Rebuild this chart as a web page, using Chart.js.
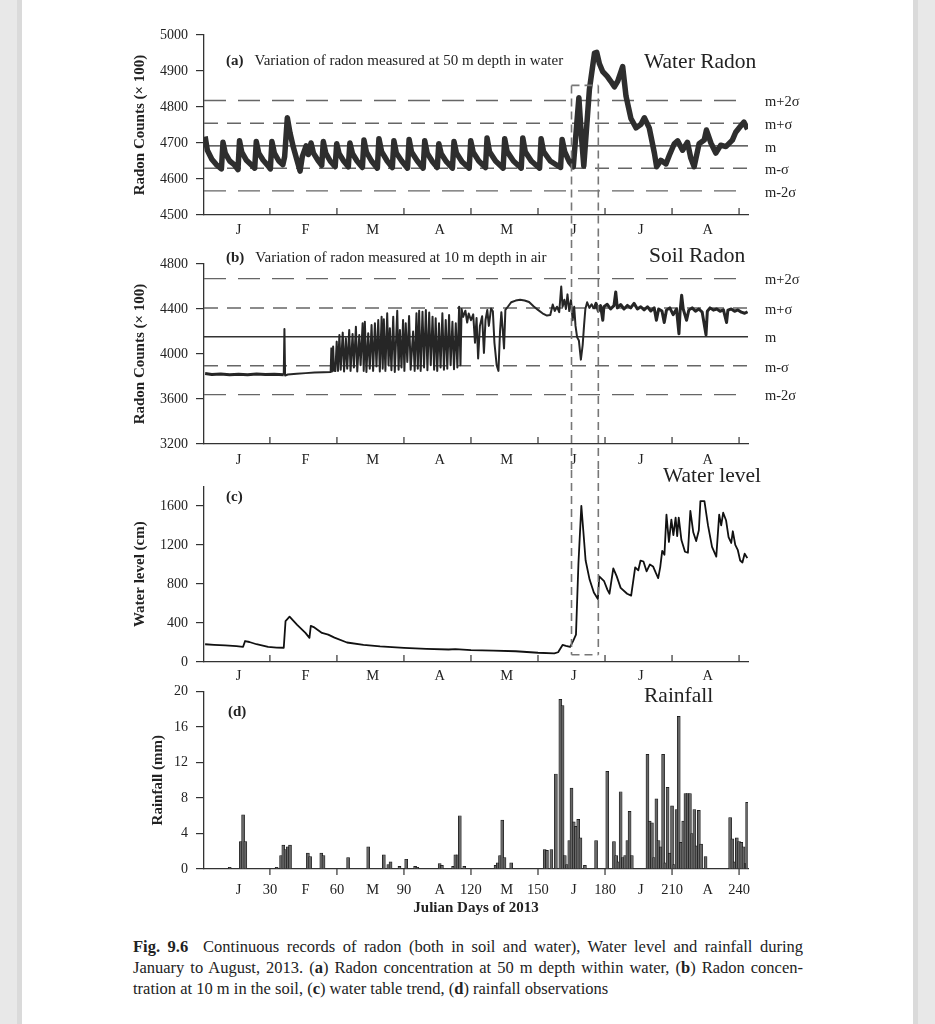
<!DOCTYPE html>
<html lang="en">
<head>
<meta charset="UTF-8">
<title>Fig. 9.6 Radon, water level and rainfall, 2013</title>
<script src="https://cdn.jsdelivr.net/npm/chart.js"></script>
<style>
    html, body {
        margin: 0;
        padding: 0;
    }
    body {
        width: 935px;
        height: 1024px;
        position: relative;
        overflow: hidden;
        background: #e8e8e8;
        font-family: "Liberation Serif", "Times New Roman", serif;
        color: #222;
    }
    #page {
        position: absolute;
        left: 22px;
        top: 0;
        width: 891px;
        height: 1024px;
        background: #fff;
        box-shadow: -5px 0 0 #dadada, 5px 0 0 #dadada;
    }
    canvas {
        position: absolute;
        left: 0;
    }
    .note {
        position: absolute;
        white-space: nowrap;
        line-height: 1;
        z-index: 2;
    }
    .small { font-size: 15px; }
    .big { font-size: 21.5px; }
    #caption {
        position: absolute;
        left: 133px;
        top: 936px;
        width: 670px;
        font-size: 16.5px;
        line-height: 21px;
    }
    #caption .j {
        text-align: justify;
        text-align-last: justify;
    }
</style>
</head>
<body>
<div id="page"></div>

<canvas id="waterChart" width="935" height="240" style="top:0px"></canvas>
<canvas id="soilChart" width="935" height="230" style="top:240px"></canvas>
<canvas id="levelChart" width="935" height="213" style="top:470px"></canvas>
<canvas id="rainChart" width="935" height="255" style="top:675px"></canvas>

<div class="note small" style="left:226px; top:53px"><b>(a)</b>&nbsp;&nbsp; Variation of radon measured at 50 m depth in water</div>
<div class="note big" style="left:644px; top:51px">Water Radon</div>
<div class="note small" style="left:226px; top:250px"><b>(b)</b>&nbsp;&nbsp; Variation of radon measured at 10 m depth in air</div>
<div class="note big" style="left:649px; top:245px">Soil Radon</div>
<div class="note small" style="left:226px; top:489px"><b>(c)</b></div>
<div class="note big" style="left:663px; top:465px">Water level</div>
<div class="note small" style="left:228px; top:704px"><b>(d)</b></div>
<div class="note big" style="left:644px; top:685px">Rainfall</div>

<div id="caption">
    <div class="j"><b>Fig. 9.6</b>&nbsp; Continuous records of radon (both in soil and water), Water level and rainfall during</div>
    <div class="j">January to August, 2013. (<b>a</b>) Radon concentration at 50 m depth within water, (<b>b</b>) Radon concen-</div>
    <div>tration at 10 m in the soil, (<b>c</b>) water table trend, (<b>d</b>) rainfall observations</div>
</div>

<script>
    // axis labels
    const monthLetters = ['J', 'F', 'M', 'A', 'M', 'J', 'J', 'A'];
    const monthMid = [16, 46, 76, 106, 136, 166, 196, 226];
    const julianTicks = [30, 60, 90, 120, 150, 180, 210, 240];
    const sigmaLabels = ['m+2\u03c3', 'm+\u03c3', 'm', 'm-\u03c3', 'm-2\u03c3'];

    // mean and sigma levels
    const waterLevels = [4818, 4755, 4692, 4630, 4567];
    const soilLevels = [4670, 4409, 4154, 3896, 3639];

    // dashed window (Julian days) and its top / bottom values
    const boxDays = [165, 177];
    const boxTop = 4860;
    const boxBottom = 75;

    // (a) water radon, counts x 100
    const waterDays = [1, 2, 4, 6, 8.3, 9, 10, 12, 14, 15.7, 16.4, 17.4, 19.5, 21.5, 23.2, 23.9, 25, 27, 29, 30.2,
        30.9, 32, 34, 35.8, 36.6, 37.8, 39, 40.5, 42, 43.5, 44.5, 46.2, 47.2, 48.4, 49.5, 51.5, 53.2, 53.9, 55, 57,
        59.2, 59.9, 61, 63, 65.1, 65.8, 67, 69, 71.4, 72.1, 73.2, 75.5, 78.1, 78.8, 80, 82.5, 84.8, 85.5, 86.6, 89,
        91.6, 92.3, 93.4, 96, 98.6, 99.3, 100.4, 102.8, 104.9, 105.6, 106.7, 109, 111.7, 112.4, 113.5, 116, 119.2, 119.9, 121, 123.5,
        126.5, 127.2, 128.3, 131, 134.4, 135.1, 136.2, 139, 142.5, 143.2, 144.3, 147, 150.7, 151.4, 152.5, 155.5, 160.1, 160.8, 162, 164,
        165.8, 168.3, 169.3, 170.5, 173, 175.3, 176.3, 177.5, 179, 181, 182.5, 184.2, 185.7, 187.9, 189.4, 191.6, 193.9, 196.1, 197.6, 199.8,
        202.1, 203.1, 205, 207.3, 208.8, 211, 212.5, 214.7, 216.9, 218.4, 219.9, 222.1, 224.4, 225.4, 227.4, 229.6, 231.8, 234.1, 237, 238.5,
        240.8, 242.2, 243.8];
    const waterCounts = [4718, 4680, 4655, 4640, 4628, 4702, 4672, 4650, 4640, 4626, 4706, 4675, 4652, 4640, 4630, 4704, 4672, 4652, 4638, 4628,
        4704, 4672, 4650, 4640, 4662, 4770, 4728, 4688, 4655, 4622, 4662, 4692, 4668, 4700, 4672, 4652, 4638, 4704, 4672, 4650,
        4634, 4698, 4670, 4650, 4634, 4700, 4670, 4650, 4632, 4708, 4675, 4650, 4630, 4712, 4676, 4650, 4632, 4706, 4672, 4650,
        4630, 4710, 4675, 4650, 4630, 4706, 4672, 4648, 4632, 4698, 4670, 4648, 4630, 4704, 4672, 4648, 4630, 4706, 4674, 4650,
        4632, 4714, 4676, 4650, 4630, 4712, 4676, 4650, 4630, 4714, 4676, 4650, 4630, 4712, 4676, 4650, 4632, 4710, 4675, 4648,
        4634, 4826, 4730, 4636, 4848, 4950, 4952, 4920, 4898, 4885, 4872, 4856, 4872, 4912, 4830, 4768, 4742, 4752, 4770, 4742,
        4672, 4634, 4652, 4642, 4666, 4698, 4706, 4680, 4702, 4658, 4634, 4698, 4708, 4736, 4700, 4672, 4694, 4690, 4708, 4730,
        4748, 4758, 4738];

    // (b) soil radon, counts x 100
    const soilDays = [1, 4, 8, 12, 16, 20, 24, 28, 32, 36.2, 36.5, 36.8, 38, 42, 46, 50, 54, 57.2, 57.5, 57.8,
        58.3, 58.7, 59.3, 59.9, 60.5, 61.1, 61.7, 62.6, 63.2, 64, 64.6, 65.5, 66.1, 67, 67.6, 68.5, 69.1, 70, 70.6, 71.5,
        72, 72.5, 73.2, 74, 74.7, 75.5, 76.2, 77, 77.7, 78.5, 79.2, 80, 80.5, 81, 81.7, 82.5, 83.1, 83.7, 84.4, 85.2,
        85.9, 87, 87.6, 88.2, 88.9, 89.6, 90.2, 90.8, 91.5, 92.3, 93, 94.1, 94.8, 95.6, 96.2, 96.8, 97.5, 98.3, 99, 99.8,
        100.5, 101.3, 102, 102.8, 103.5, 104.2, 104.9, 105.7, 106.4, 107.2, 107.9, 108.7, 109.4, 110.2, 110.9, 111.7, 112.4, 113.2, 113.9, 114.7,
        115.3, 115.8, 116.5, 117.5, 118.3, 119, 120, 121, 121.8, 122.5, 123.2, 124, 125, 125.8, 126.5, 127.3, 128, 129, 129.8, 130.5,
        131.5, 132.3, 133, 133.6, 134.2, 134.8, 135.4, 136.5, 138, 140, 142, 144, 146, 148, 150, 152, 154, 155.5, 156.6, 157.5,
        158.5, 159.5, 160.4, 161, 161.8, 162.5, 163.2, 164, 164.8, 165.5, 166.2, 166.8, 167.5, 168.3, 169.2, 170, 170.6, 171.2, 172, 173,
        174, 175, 176, 177, 178, 179, 179.5, 181, 182.5, 184, 184.8, 185.5, 187, 188.5, 190, 191.5, 193, 194.5, 196, 197.5,
        199, 200.5, 202, 203, 204, 205.5, 206.5, 207.5, 209, 210.5, 212, 213.1, 213.6, 214.3, 215, 216.5, 217.5, 219, 220.5, 222,
        223.5, 225.2, 225.8, 227, 228.5, 230, 231.5, 233, 234.4, 235, 236.5, 238, 239.5, 241, 242.5, 243.8];
    const soilCounts = [3826, 3818, 3823, 3815, 3821, 3816, 3822, 3817, 3820, 3816, 4222, 3808, 3818, 3824, 3830, 3835, 3837, 3840, 4050, 3845,
        4066, 3850, 3848, 4110, 3850, 4169, 3860, 4190, 3845, 4139, 3870, 4213, 3850, 4178, 3880, 4243, 3845, 4169, 3900, 4273,
        3850, 4287, 3840, 4184, 3870, 4258, 3850, 4273, 3890, 4302, 3845, 4332, 3870, 4308, 3850, 4362, 3900, 4228, 3855, 4332,
        3840, 4385, 3860, 4213, 3880, 4302, 3850, 4273, 3930, 4338, 3860, 4199, 3850, 4362, 3870, 4385, 3850, 4376, 3880, 4391,
        3855, 4368, 3900, 4332, 3860, 4317, 3850, 4273, 3880, 4362, 3860, 4302, 3870, 4347, 3900, 4287, 3865, 4273, 3880, 4421,
        3900, 4400, 4330, 4385, 4280, 4360, 4300, 4352, 4100, 4320, 3960, 4250, 4335, 4010, 4300, 4392, 4250, 4405, 4380, 4100,
        3900, 3850, 4200, 4372, 4220, 4050, 4392, 4420, 4460, 4475, 4482, 4476, 4462, 4425, 4392, 4362, 4342, 4346, 4440, 4382,
        4420, 4372, 4600, 4420, 4482, 4400, 4530, 4382, 4480, 4300, 4420, 4250, 4150, 4120, 3950, 4080, 4250, 4400, 4460, 4410,
        4442, 4400, 4450, 4382, 4430, 4300, 4420, 4442, 4400, 4430, 4552, 4410, 4440, 4400, 4432, 4410, 4450, 4400, 4420, 4392,
        4420, 4382, 4410, 4300, 4400, 4382, 4280, 4390, 4410, 4350, 4400, 4180, 4380, 4522, 4400, 4300, 4390, 4410, 4380, 4400,
        4372, 4170, 4380, 4410, 4390, 4400, 4380, 4392, 4280, 4390, 4400, 4380, 4392, 4372, 4362, 4376];

    // (c) water level, cm
    const levelDays = [1, 5, 10, 15, 18, 18.9, 20.8, 24, 29.2, 33, 36.2, 37, 38.8, 42.2, 45.9, 47.7, 48.3, 49.6, 53.3, 56.1,
        58.9, 64.5, 71.9, 79.3, 90, 100, 110, 113, 120, 130, 140, 150, 157.3, 159, 161, 162.5, 164.4, 165.7, 167, 168.1,
        169.4, 170.3, 171.3, 173.1, 175, 176.8, 177.4, 179.6, 181.1, 182, 183.7, 185.2, 187, 189.9, 191.7, 193.5, 194.9, 195.9, 197.2, 198.6,
        200.1, 201.5, 202.8, 203.8, 204.7, 205.6, 206.6, 207.5, 208.6, 209.7, 210.6, 211.6, 212.3, 213, 214.2, 215.8, 217.1, 218.2, 219.5, 220.8,
        222, 222.7, 224.5, 226.1, 227.9, 229.8, 231.1, 232, 232.9, 234.2, 235.3, 236.5, 237.2, 238.3, 239.4, 240.5, 241.5, 242.5, 243.7];
    const levelCm = [182, 176, 170, 162, 156, 215, 205, 182, 155, 148, 146, 420, 464, 380, 298, 248, 371, 358, 298, 281,
        250, 200, 175, 160, 145, 135, 128, 132, 122, 117, 110, 95, 88, 100, 175, 165, 155, 215, 280, 1010,
        1600, 1340, 1043, 845, 712, 646, 877, 828, 740, 700, 960, 880, 760, 700, 680, 970, 940, 1040, 1030, 930,
        1000, 980, 910, 860, 970, 1140, 1100, 1510, 1230, 1460, 1300, 1480, 1290, 1480, 1250, 1130, 1120, 1550, 1330, 1240,
        1350, 1650, 1650, 1400, 1180, 1080, 1510, 1400, 1530, 1450, 1280, 1220, 1340, 1200, 1150, 1040, 1020, 1110, 1065];

    // (d) rainfall, mm
    const rainDays = [12, 17, 18, 19, 33, 35, 36, 37, 38, 39, 47, 48, 53, 54, 65, 74, 81, 83, 84, 88,
        91, 95, 96, 106, 107, 112, 113, 114, 115, 117, 131, 132, 133, 134, 135, 138, 153, 154, 156, 158,
        160, 161, 162, 163, 164, 165, 166, 167, 168, 169, 171, 176, 181, 184, 185, 186, 187, 188, 189, 190,
        191, 192, 199, 200, 201, 202, 203, 204, 205, 206, 207, 208, 209, 210, 211, 212, 213, 214, 215, 216,
        217, 218, 219, 220, 221, 222, 223, 225, 236, 237, 238, 239, 240, 241, 242, 243, 243.6];
    const rainMm = [0.2, 3.1, 6.1, 3.1, 0.2, 1.5, 2.7, 2.2, 2.5, 2.7, 1.8, 1.4, 1.8, 1.5, 1.3, 2.5, 1.6, 0.5, 0.8, 0.3,
        1.1, 0.3, 0.2, 0.6, 0.4, 0.3, 1.6, 1.6, 6.0, 0.3, 0.4, 0.7, 1.5, 5.5, 1.3, 0.7, 2.2, 2.1, 2.2, 10.7,
        19.1, 18.4, 1.5, 0.5, 3.2, 9.1, 5.3, 4.8, 5.6, 3.5, 0.4, 3.2, 11.0, 3.1, 1.5, 0.8, 8.7, 1.3, 1.5, 3.2,
        6.5, 1.5, 12.9, 5.4, 5.2, 1.3, 7.9, 3.2, 2.5, 12.9, 0.7, 9.2, 1.8, 7.1, 0.5, 6.7, 17.2, 3.0, 5.4, 8.5,
        8.5, 8.5, 4.0, 6.7, 2.6, 6.6, 2.8, 1.4, 5.8, 3.4, 0.8, 3.5, 3.1, 3.0, 2.5, 0.6, 7.5];

    const FAMILY = '"Liberation Serif", "Times New Roman", serif';
    const INK = '#222';
    Chart.defaults.font.family = FAMILY;
    Chart.defaults.color = INK;

    function points(xs, ys) {
        return xs.map((d, i) => ({ x: d, y: ys[i] }));
    }

    // sigma lines, 30-day ticks and the dashed window
    const panelDecor = {
        id: 'panelDecor',
        beforeDatasetsDraw(chart, args, opts) {
            if (!opts.levels) return;
            const { ctx, chartArea: ca, scales: { y } } = chart;
            ctx.save();
            opts.levels.forEach((v, i) => {
                const py = y.getPixelForValue(v);
                ctx.beginPath();
                ctx.strokeStyle = i === 2 ? '#333' : '#666';
                ctx.lineWidth = 1.4;
                ctx.setLineDash(i === 2 ? [] : (i === 0 || i === 4 ? [22, 12] : [14, 9]));
                ctx.moveTo(ca.left, py);
                ctx.lineTo(ca.right, py);
                ctx.stroke();
                ctx.setLineDash([]);
                ctx.fillStyle = INK;
                ctx.font = '14.5px ' + FAMILY;
                ctx.textBaseline = 'middle';
                ctx.textAlign = 'left';
                ctx.fillText(sigmaLabels[i], ca.right + 17, py + 2);
            });
            ctx.restore();
        },
        afterDatasetsDraw(chart, args, opts) {
            const { ctx, chartArea: ca, scales: { x, y } } = chart;
            ctx.save();
            ctx.strokeStyle = '#333';
            ctx.lineWidth = 1.2;
            julianTicks.forEach(d => {
                const px = x.getPixelForValue(d);
                ctx.beginPath();
                ctx.moveTo(px, ca.bottom);
                ctx.lineTo(px, ca.bottom + (opts.ticksDown ? 6 : -7));
                ctx.stroke();
            });
            if (opts.box) {
                const x1 = x.getPixelForValue(boxDays[0]);
                const x2 = x.getPixelForValue(boxDays[1]);
                const top = opts.box.top != null ? y.getPixelForValue(opts.box.top) : 0;
                const bottom = opts.box.bottom != null ? y.getPixelForValue(opts.box.bottom) : chart.height;
                ctx.strokeStyle = '#777';
                ctx.lineWidth = 1.6;
                ctx.setLineDash([8, 5]);
                ctx.beginPath();
                ctx.moveTo(x1, top); ctx.lineTo(x1, bottom);
                ctx.moveTo(x2, top); ctx.lineTo(x2, bottom);
                if (opts.box.top != null) { ctx.moveTo(x1, top); ctx.lineTo(x2, top); }
                if (opts.box.bottom != null) { ctx.moveTo(x1, bottom); ctx.lineTo(x2, bottom); }
                ctx.stroke();
            }
            ctx.restore();
        }
    };

    function yAxis(min, max, step, title, width, tickList) {
        const axis = {
            type: 'linear',
            min: min,
            max: max,
            ticks: { stepSize: step, color: INK, font: { size: 14 }, padding: 8, callback: v => String(v) },
            grid: { drawOnChartArea: false, tickLength: 8, color: '#333', lineWidth: 1.2 },
            border: { color: '#333', width: 1.3 },
            title: { display: true, text: title, color: INK, font: { size: 15, weight: 'bold' }, padding: { top: 4, bottom: 4 } },
            afterFit: s => { s.width = width; }
        };
        if (tickList) {
            axis.afterBuildTicks = s => { s.ticks = tickList.map(v => ({ value: v })); };
        }
        return axis;
    }

    function monthAxis(height, pad) {
        return {
            type: 'linear',
            min: 0.5,
            max: 244,
            afterBuildTicks: s => { s.ticks = monthMid.map(v => ({ value: v })); },
            ticks: { autoSkip: false, maxRotation: 0, padding: pad, color: INK, font: { size: 14.5 },
                callback: (v, i) => monthLetters[i] },
            grid: { display: false, drawTicks: false },
            border: { color: '#333', width: 1.3 },
            afterFit: s => { s.height = height; }
        };
    }

    function baseOptions(padTop, padLeft, scales, decor) {
        return {
            responsive: false,
            animation: false,
            events: [],
            layout: { padding: { top: padTop, left: padLeft, right: 187, bottom: 0 } },
            plugins: { legend: { display: false }, tooltip: { enabled: false }, panelDecor: decor },
            scales: scales
        };
    }

    // thick line for the noisy flat parts, thin for the spiky part
    function lineSet(xs, ys, width, color, thinFrom, thinTo, thinWidth) {
        const set = {
            data: points(xs, ys),
            borderColor: color,
            borderWidth: width,
            pointRadius: 0,
            tension: 0,
            borderJoinStyle: 'round',
            fill: false
        };
        if (thinFrom != null) {
            set.segment = {
                borderWidth: c => (c.p0.parsed.x >= thinFrom && c.p1.parsed.x <= thinTo ? thinWidth : width)
            };
        }
        return set;
    }

    new Chart(document.getElementById('waterChart'), {
        type: 'line',
        data: { datasets: [lineSet(waterDays, waterCounts, 5.5, '#2e2e2e')] },
        options: baseOptions(35, 127, {
            x: monthAxis(25, 6),
            y: yAxis(4500, 5000, 100, 'Radon Counts (\u00d7 100)', 77)
        }, { levels: waterLevels, box: { top: boxTop } }),
        plugins: [panelDecor]
    });

    new Chart(document.getElementById('soilChart'), {
        type: 'line',
        data: { datasets: [lineSet(soilDays, soilCounts, 3, '#262626', 36, 175, 2)] },
        options: baseOptions(24, 127, {
            x: monthAxis(26, 7),
            y: yAxis(3200, 4800, 400, 'Radon Counts (\u00d7 100)', 77)
        }, { levels: soilLevels, box: {} }),
        plugins: [panelDecor]
    });

    new Chart(document.getElementById('levelChart'), {
        type: 'line',
        data: { datasets: [lineSet(levelDays, levelCm, 1.8, '#111')] },
        options: baseOptions(13, 127, {
            x: monthAxis(21, 5),
            y: yAxis(0, 1800, 400, 'Water level (cm)', 77, [0, 400, 800, 1200, 1600])
        }, { box: { bottom: boxBottom } }),
        plugins: [panelDecor]
    });

    const rainTicks = monthMid.concat(julianTicks).sort((a, b) => a - b);
    new Chart(document.getElementById('rainChart'), {
        type: 'bar',
        data: {
            datasets: [{
                data: points(rainDays, rainMm),
                backgroundColor: '#666',
                borderColor: '#111',
                borderWidth: 0.7,
                barThickness: 3,
                grouped: false
            }]
        },
        options: baseOptions(14, 145, {
            x: {
                type: 'linear',
                min: 0.5,
                max: 244,
                offset: false,
                afterBuildTicks: s => { s.ticks = rainTicks.map(v => ({ value: v })); },
                ticks: {
                    autoSkip: false, maxRotation: 0, padding: 12, color: INK, font: { size: 14.5 },
                    callback: v => (v % 30 === 0 ? String(v) : monthLetters[monthMid.indexOf(v)])
                },
                grid: { display: false, drawTicks: false },
                border: { color: '#333', width: 1.3 },
                title: { display: true, text: 'Julian Days of 2013', color: INK,
                    font: { size: 15, weight: 'bold' }, padding: { top: 4, bottom: 13 } },
                afterFit: s => { s.height = 61; }
            },
            y: yAxis(0, 20, 4, 'Rainfall (mm)', 59)
        }, { ticksDown: true }),
        plugins: [panelDecor]
    });
</script>
</body>
</html>
